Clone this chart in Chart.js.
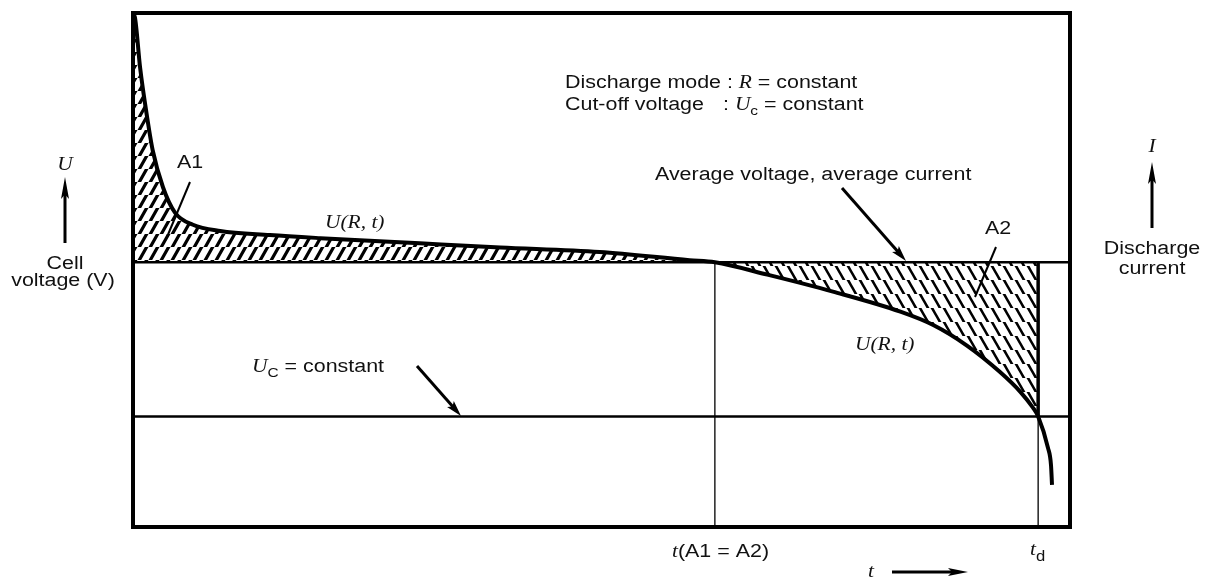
<!DOCTYPE html>
<html><head><meta charset="utf-8">
<script src="https://cdn.jsdelivr.net/npm/chart.js@4.4.1/dist/chart.umd.min.js"></script>
<style>html,body{margin:0;padding:0;background:#fff;}#wrap{width:1207px;height:578px;position:relative;}</style>
</head><body><div id="wrap"><canvas id="c"></canvas></div>
<script>
// Discharge curve U(R, t), time in % of discharge, voltage in arbitrary units
const timeValues    = [0, 0.2, 0.75, 1.5, 2.1, 3.2, 4.5, 6.4, 9.3, 14.6, 20.0, 30.6, 39.2, 49.8, 59.4, 62.1, 67.7, 74.7, 81.9, 85.4, 89.0, 92.5, 94.7, 96.05, 96.6, 97.65, 97.97, 98.08];
const voltageValues = [1.798, 1.792, 1.695, 1.598, 1.533, 1.461, 1.411, 1.388, 1.376, 1.368, 1.362, 1.352, 1.344, 1.335, 1.319, 1.315, 1.291, 1.258, 1.219, 1.193, 1.153, 1.102, 1.063, 1.032, 1.015, 0.954, 0.921, 0.882];
const averageVoltage = 1.315;
const cutoffVoltage  = 1.015;
const tEqualAreas    = 62.1;
const tDischarge     = 96.6;
const timeRange      = [0, 100];
const voltageRange   = [0.8, 1.8];

const curve = timeValues.map((t, i) => ({x: t, y: voltageValues[i]}));
const fillCurve = curve.filter(p => p.x <= tDischarge);

const ctx0 = document.getElementById('c').getContext('2d');
function hatch(w, h, dir, lw) {
  const c = document.createElement('canvas'); c.width = w; c.height = h;
  const g = c.getContext('2d'); g.strokeStyle = '#000'; g.lineWidth = lw;
  g.beginPath();
  for (let k = -1; k <= 2; k++) {
    if (dir > 0) { g.moveTo(k * w - w, h * 2); g.lineTo(k * w + w, -h); }
    else { g.moveTo(k * w - w, -h); g.lineTo(k * w + w, h * 2); }
  }
  g.stroke();
  return ctx0.createPattern(c, 'repeat');
}
const patA1 = hatch(11, 13, 1, 3.2);
const patA2 = hatch(12, 14, -1, 2.6);

const SX = 1.19;
const SANS = '"Liberation Sans", Arial, sans-serif';
const SERIF = '"Liberation Serif", "Times New Roman", serif';
function txt(ctx, s, x, y, font, align) {
  ctx.save(); ctx.font = font; ctx.fillStyle = '#111';
  ctx.textAlign = align || 'left'; ctx.textBaseline = 'alphabetic';
  ctx.translate(x, y); ctx.scale(SX, 1); ctx.fillText(s, 0, 0); ctx.restore();
}
function tw(ctx, s, font) { ctx.save(); ctx.font = font; const m = ctx.measureText(s).width * SX; ctx.restore(); return m; }
function chain(ctx, parts, x, y) {
  let cx = x;
  for (const p of parts) { txt(ctx, p[0], cx, y + (p[2] || 0), p[1]); cx += tw(ctx, p[0], p[1]); }
}
function arrow(ctx, x1, y1, x2, y2, lw, hl, hw) {
  const ang = Math.atan2(y2 - y1, x2 - x1);
  ctx.save(); ctx.strokeStyle = '#000'; ctx.fillStyle = '#000'; ctx.lineWidth = lw;
  ctx.beginPath(); ctx.moveTo(x1, y1);
  ctx.lineTo(x2 - Math.cos(ang) * hl * 0.7, y2 - Math.sin(ang) * hl * 0.7); ctx.stroke();
  ctx.translate(x2, y2); ctx.rotate(ang);
  ctx.beginPath(); ctx.moveTo(0, 0); ctx.lineTo(-hl, -hw); ctx.lineTo(-hl * 0.8, 0); ctx.lineTo(-hl, hw); ctx.closePath(); ctx.fill();
  ctx.restore();
}
function line(ctx, x1, y1, x2, y2, lw) {
  ctx.save(); ctx.strokeStyle = '#000'; ctx.lineWidth = lw;
  ctx.beginPath(); ctx.moveTo(x1, y1); ctx.lineTo(x2, y2); ctx.stroke(); ctx.restore();
}

const annot = {
  id: 'annot',
  afterDraw(chart) {
    const ctx = chart.ctx, a = chart.chartArea;
    ctx.save();
    ctx.strokeStyle = '#000'; ctx.lineWidth = 4;
    ctx.strokeRect(a.left, a.top, a.right - a.left, a.bottom - a.top);
    ctx.restore();
    const F = '18px ' + SANS, FI = 'italic 18px ' + SERIF, FS = '13px ' + SANS;

    // Header notes
    chain(ctx, [['Discharge mode : ', F], ['R', FI], [' = constant', F]], 565, 88);
    txt(ctx, 'Cut-off voltage', 565, 110, F);
    chain(ctx, [[': ', F], ['U', FI], ['c', FS, 5], [' = constant', F]], 723, 110);

    // A1
    txt(ctx, 'A1', 177, 168, F);
    line(ctx, 190, 182, 167, 237, 2);
    txt(ctx, 'U(R, t)', 325, 228, FI);

    // Average line note
    txt(ctx, 'Average voltage, average current', 655, 180, F);
    arrow(ctx, 842, 188, 906, 261, 3, 16, 4.5);

    // A2
    txt(ctx, 'A2', 985, 234, F);
    line(ctx, 996, 247, 975, 297, 2);
    txt(ctx, 'U(R, t)', 855, 350, FI);

    // Cut-off
    chain(ctx, [['U', FI], ['C', FS, 5], [' = constant', F]], 252, 372);
    arrow(ctx, 417, 366, 461, 416, 3, 16, 4.5);

    // Bottom labels
    chain(ctx, [['t', FI], ['(A1 = A2)', F]], 672, 557);
    chain(ctx, [['t', FI], ['d', '14px ' + SANS, 6]], 1030, 555);
    txt(ctx, 't', 868, 577, FI);
    arrow(ctx, 892, 572, 968, 572, 3, 20, 4);

    // Left axis label
    txt(ctx, 'U', 65, 170, FI, 'center');
    arrow(ctx, 65, 243, 65, 177, 3, 22, 4);
    txt(ctx, 'Cell', 65, 269, F, 'center');
    txt(ctx, 'voltage (V)', 63, 286, F, 'center');

    // Right axis label
    txt(ctx, 'I', 1152, 152, FI, 'center');
    arrow(ctx, 1152, 228, 1152, 162, 3, 22, 4);
    txt(ctx, 'Discharge', 1152, 254, F, 'center');
    txt(ctx, 'current', 1152, 274, F, 'center');
  }
};

new Chart(ctx0, {
  type: 'line',
  data: {
    datasets: [
      { data: curve, borderColor: '#000', borderWidth: 4, pointRadius: 0, fill: false, cubicInterpolationMode: 'monotone', order: 0 },
      { data: fillCurve, borderColor: 'rgba(0,0,0,0)', borderWidth: 0, pointRadius: 0, cubicInterpolationMode: 'monotone', order: 9,
        fill: { target: { value: averageVoltage }, above: patA1, below: patA2 } },
      { data: [{x: timeRange[0], y: averageVoltage}, {x: timeRange[1], y: averageVoltage}], borderColor: '#000', borderWidth: 2.5, pointRadius: 0, fill: false, order: 1 },
      { data: [{x: timeRange[0], y: cutoffVoltage}, {x: timeRange[1], y: cutoffVoltage}], borderColor: '#000', borderWidth: 2.5, pointRadius: 0, fill: false, order: 1 },
      { data: [{x: tEqualAreas, y: averageVoltage}, {x: tEqualAreas, y: voltageRange[0]}], borderColor: '#000', borderWidth: 1.3, pointRadius: 0, fill: false, order: 1 },
      { data: [{x: tDischarge, y: averageVoltage}, {x: tDischarge, y: cutoffVoltage}], borderColor: '#000', borderWidth: 3.5, pointRadius: 0, fill: false, order: 1 },
      { data: [{x: tDischarge, y: cutoffVoltage}, {x: tDischarge, y: voltageRange[0]}], borderColor: '#000', borderWidth: 1.3, pointRadius: 0, fill: false, order: 1 }
    ]
  },
  options: {
    responsive: true, maintainAspectRatio: false, animation: false,
    layout: { padding: { left: 133, top: 13, right: 137, bottom: 51 } },
    scales: {
      x: { type: 'linear', min: timeRange[0], max: timeRange[1], display: false },
      y: { type: 'linear', min: voltageRange[0], max: voltageRange[1], display: false }
    },
    plugins: { legend: { display: false }, tooltip: { enabled: false } },
    events: []
  },
  plugins: [annot]
});
</script>
</body></html>
